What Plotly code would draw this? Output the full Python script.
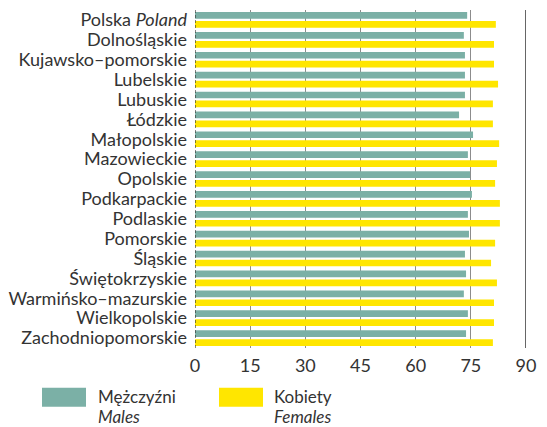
import plotly.graph_objects as go

# Life expectancy by voivodship, males vs females
regions = [
    "Polska <i>Poland</i>", "Dolnośląskie", "Kujawsko–pomorskie", "Lubelskie",
    "Lubuskie", "Łódzkie", "Małopolskie", "Mazowieckie", "Opolskie",
    "Podkarpackie", "Podlaskie", "Pomorskie", "Śląskie", "Świętokrzyskie",
    "Warmińsko–mazurskie", "Wielkopolskie", "Zachodniopomorskie",
]
males = [74.0, 73.1, 73.4, 73.4, 73.4, 71.8, 75.6, 74.2, 74.8,
         75.3, 74.2, 74.5, 73.4, 73.7, 73.1, 74.2, 73.7]
females = [81.8, 81.3, 81.3, 82.4, 81.0, 81.0, 82.7, 82.1, 81.6,
           82.9, 82.9, 81.6, 80.5, 82.1, 81.3, 81.3, 81.0]
x_ticks = [0, 15, 30, 45, 60, 75, 90]

GREEN = "#7BB0A6"
YELLOW = "#FFE600"
TEXT = "#333333"
FONT = "Lato"

fig = go.Figure()
fig.add_trace(go.Bar(y=regions, x=males, orientation="h", marker_color=GREEN,
                     marker_line_width=0, name="Mężczyźni"))
fig.add_trace(go.Bar(y=regions, x=females, orientation="h", marker_color=YELLOW,
                     marker_line_width=0, name="Kobiety"))

fig.update_layout(
    width=547, height=427,
    margin=dict(l=195, r=21, t=8, b=79),
    paper_bgcolor="white", plot_bgcolor="white",
    barmode="group", bargap=0.1, bargroupgap=0.25,
    showlegend=False,
    font=dict(family=FONT, size=18, color=TEXT),
    xaxis=dict(range=[0, 90], tickmode="array", tickvals=x_ticks, showgrid=True,
               gridcolor="#8c8c8c", gridwidth=1, zeroline=False,
               showline=False, ticks="", ticklabelstandoff=5,
               tickfont=dict(size=18, color=TEXT)),
    yaxis=dict(autorange="reversed", tickmode="array", tickvals=regions,
               ticktext=regions, showgrid=False, zeroline=False,
               showline=False, ticks="", ticklabelstandoff=7,
               tickfont=dict(size=18, color=TEXT)),
)

# dashed baseline at zero and solid frame line at 90
fig.add_shape(type="line", xref="x", yref="paper", x0=0, x1=0, y0=0, y1=1,
              line=dict(color="#333333", width=1.2, dash="3px,2px"), layer="above")
fig.add_shape(type="line", xref="x", yref="paper", x0=90, x1=90, y0=0, y1=1,
              line=dict(color="#333333", width=1.5), layer="above")


def px_x(px):
    return (px - 195) / 331


def px_y(py):
    return (348 - py) / 340


# legend drawn as swatches with two-line labels
legend_items = [
    (GREEN, "Mężczyźni", "Males", 42, 96),
    (YELLOW, "Kobiety", "Females", 219, 272),
]
for color, pl, en, sx, tx in legend_items:
    fig.add_shape(type="rect", xref="paper", yref="paper",
                  x0=px_x(sx), x1=px_x(sx + 44),
                  y0=px_y(407), y1=px_y(388),
                  fillcolor=color, line_width=0)
    fig.add_annotation(xref="paper", yref="paper", x=px_x(tx), y=px_y(397),
                       xanchor="left", yanchor="middle", showarrow=False,
                       text=pl, font=dict(family=FONT, size=17, color=TEXT))
    fig.add_annotation(xref="paper", yref="paper", x=px_x(tx), y=px_y(417),
                       xanchor="left", yanchor="middle", showarrow=False,
                       text=f"<i>{en}</i>",
                       font=dict(family=FONT, size=17, color=TEXT))

fig.write_html("out.html")
